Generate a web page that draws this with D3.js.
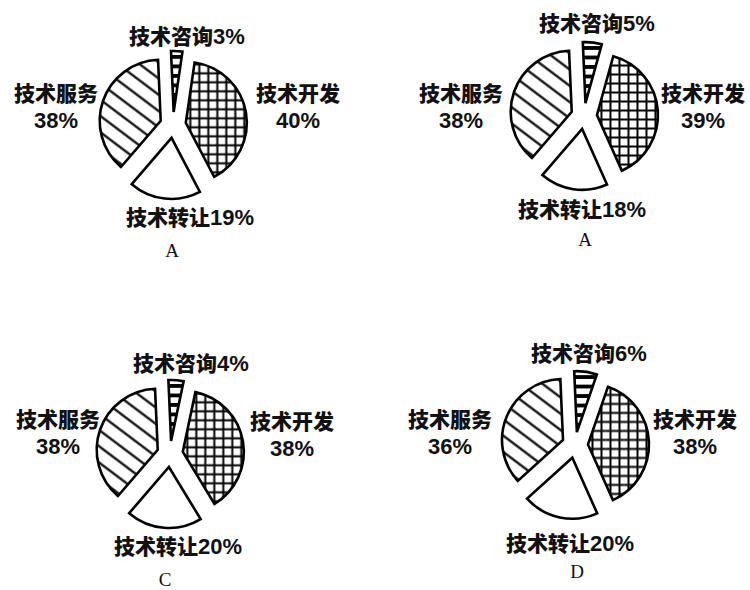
<!DOCTYPE html>
<html lang="zh">
<head>
<meta charset="UTF-8">
<title>技术合同构成</title>
<script src="https://d3js.org/d3.v7.min.js"></script>
<style>
    body { margin: 0; background: #fff; }
    svg { display: block; }
    .lbl { font-family: "Noto Sans CJK SC", "Noto Sans", sans-serif; font-weight: 900; font-size: 21px; fill: #111; }
    .num { font-family: "Liberation Sans", Arial, sans-serif; font-weight: bold; font-size: 22px; }
    .cap { font-family: "Liberation Serif", "DejaVu Serif", serif; font-size: 19px; fill: #111; }
</style>
</head>
<body>
<svg id="chart" width="750" height="590"></svg>
<script>
// slices clockwise from the top
const categories = ["技术咨询", "技术开发", "技术转让", "技术服务"];
const valuesA1 = [3, 40, 19, 38];
const valuesA2 = [5, 39, 18, 38];
const valuesC = [4, 38, 20, 38];
const valuesD = [6, 38, 20, 36];
const captions = ["A", "A", "C", "D"];

// layout of each small pie (centre, label spots)
const panels = [
    { values: valuesA1, cx: 173, cy: 125, top: [187, 44], left: [56, 101], right: [298, 101], bottom: [190, 225], cap: [172, 257] },
    { values: valuesA2, cx: 584, cy: 116, top: [597, 31], left: [461, 101], right: [703, 101], bottom: [582, 217], cap: [585, 246] },
    { values: valuesC, cx: 170, cy: 454, top: [191, 371], left: [58, 427], right: [292, 429], bottom: [178, 554], cap: [165, 586] },
    { values: valuesD, cx: 575, cy: 445, top: [589, 361], left: [450, 427], right: [695, 427], bottom: [570, 551], cap: [577, 578] }
];

const radius = 61;
const explode = 13;
const svg = d3.select("#chart");

// fills
const defs = svg.append("defs");
defs.append("pattern")
    .attr("id", "stripes").attr("patternUnits", "userSpaceOnUse")
    .attr("width", 40).attr("height", 9.5)
    .append("rect").attr("x", 0).attr("y", 0).attr("width", 40).attr("height", 3.8).attr("fill", "#000");
defs.append("pattern")
    .attr("id", "grid").attr("patternUnits", "userSpaceOnUse")
    .attr("width", 9).attr("height", 9)
    .append("path").attr("d", "M0,4.5H9M4.5,0V9")
    .attr("stroke", "#000").attr("stroke-width", 2).attr("fill", "none");
defs.append("pattern")
    .attr("id", "hatch").attr("patternUnits", "userSpaceOnUse")
    .attr("width", 13).attr("height", 13)
    .attr("patternTransform", "rotate(-53)")
    .append("line").attr("x1", 6.5).attr("y1", 0).attr("x2", 6.5).attr("y2", 13)
    .attr("stroke", "#000").attr("stroke-width", 2.2);

const fills = ["url(#stripes)", "url(#grid)", "#fff", "url(#hatch)"];

const pie = d3.pie().sort(null)
    .startAngle(-2.5 * Math.PI / 180)
    .endAngle(2 * Math.PI - 2.5 * Math.PI / 180);
const arc = d3.arc().innerRadius(0).outerRadius(radius);

panels.forEach((p, i) => {
    const g = svg.append("g").attr("transform", `translate(${p.cx},${p.cy})`);
    const arcs = pie(p.values);

    g.selectAll("path.slice")
        .data(arcs)
        .join("path")
        .attr("class", "slice")
        .attr("transform", d => {
            const a = (d.startAngle + d.endAngle) / 2;
            return `translate(${explode * Math.sin(a)},${-explode * Math.cos(a)})`;
        })
        .attr("d", arc)
        .attr("fill", (d, j) => fills[j])
        .attr("stroke", "#000")
        .attr("stroke-width", 2.6)
        .attr("stroke-linejoin", "miter");

    // name + percentage, either on one line or stacked
    const lbl = (pos, name, pct, stacked) => {
        const t = svg.append("text").attr("class", "lbl")
            .attr("x", pos[0]).attr("y", pos[1]).attr("text-anchor", "middle");
        t.append("tspan").text(name);
        const n = t.append("tspan").attr("class", "num").text(pct + "%");
        if (stacked) n.attr("x", pos[0]).attr("dy", 27);
    };

    lbl(p.top, categories[0], p.values[0], false);
    lbl(p.right, categories[1], p.values[1], true);
    lbl(p.bottom, categories[2], p.values[2], false);
    lbl(p.left, categories[3], p.values[3], true);

    svg.append("text").attr("class", "cap")
        .attr("x", p.cap[0]).attr("y", p.cap[1])
        .attr("text-anchor", "middle").text(captions[i]);
});
</script>
</body>
</html>
